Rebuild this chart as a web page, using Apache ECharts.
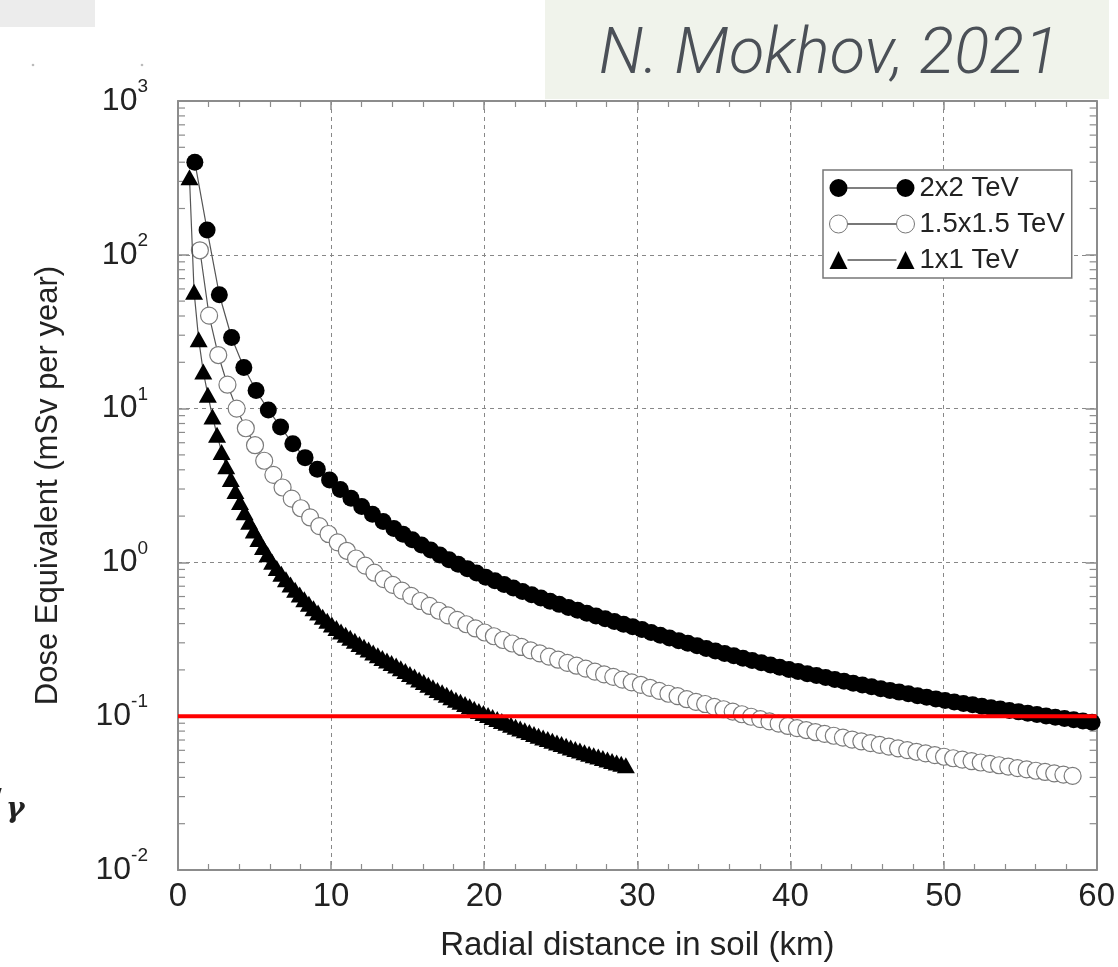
<!DOCTYPE html>
<html><head><meta charset="utf-8">
<script src="https://cdn.jsdelivr.net/npm/echarts@6/dist/echarts.min.js"></script>
<style>html,body{margin:0;padding:0;background:#fff}#c{width:1118px;height:967px}</style>
</head><body><div id="c"></div>
<script>
const SERIES_NAMES = ['2x2 TeV', '1.5x1.5 TeV', '1x1 TeV'];
const X_MIN = 0, X_MAX = 60, X_STEP = 10;
const Y_MIN = 0.01, Y_MAX = 1000;
const LIMIT_X = [0, 60];
const LIMIT_Y = 0.1;
const MINOR_MULT = [2, 3, 4, 5, 6, 7, 8, 9];
const DECADES = [0.01, 0.1, 1, 10, 100];

const BLACK_X = [1.1,1.9,2.7,3.5,4.3,5.1,5.9,6.7,7.5,8.3,9.1,9.9,10.6,11.3,12.0,12.7,13.4,14.1,14.7,15.3,15.9,16.5,17.1,17.7,18.3,18.9,19.5,20.1,20.7,21.3,21.9,22.5,23.1,23.7,24.3,24.9,25.5,26.1,26.7,27.3,27.9,28.5,29.1,29.7,30.3,30.9,31.5,32.1,32.7,33.3,33.9,34.5,35.1,35.7,36.3,36.9,37.5,38.1,38.7,39.3,39.9,40.5,41.1,41.7,42.3,42.9,43.5,44.1,44.7,45.3,45.9,46.5,47.1,47.7,48.3,48.9,49.5,50.1,50.7,51.3,51.9,52.5,53.1,53.7,54.3,54.9,55.5,56.1,56.7,57.3,57.9,58.5,59.1,59.7];
const BLACK_Y = [400,145,55,29,18.5,13.1,9.8,7.6,5.9,4.8,4.03,3.43,2.98,2.615,2.312,2.058,1.844,1.661,1.525,1.405,1.299,1.204,1.118,1.042,0.973,0.911,0.854,0.802,0.7586,0.7184,0.681,0.647,0.6155,0.586,0.559,0.5335,0.5098,0.4877,0.467,0.4476,0.4295,0.4124,0.396,0.3813,0.366,0.3507,0.336,0.3228,0.310,0.298,0.287,0.2759,0.2658,0.2561,0.247,0.2384,0.2302,0.2223,0.215,0.2078,0.2011,0.195,0.189,0.1838,0.1785,0.1734,0.1686,0.164,0.1595,0.1553,0.151,0.1472,0.1434,0.1398,0.136,0.1329,0.1296,0.1265,0.1237,0.1211,0.1185,0.116,0.1135,0.1112,0.1089,0.1067,0.1045,0.1025,0.1004,0.0985,0.0966,0.0948,0.093,0.0912];

const OPEN_X = [1.43,2.03,2.63,3.23,3.83,4.43,5.03,5.63,6.23,6.83,7.43,8.03,8.63,9.23,9.83,10.43,11.03,11.63,12.23,12.83,13.43,14.03,14.63,15.23,15.83,16.43,17.03,17.63,18.23,18.83,19.43,20.03,20.63,21.23,21.83,22.43,23.03,23.63,24.23,24.83,25.43,26.03,26.63,27.23,27.83,28.43,29.03,29.63,30.23,30.83,31.43,32.03,32.63,33.23,33.83,34.43,35.03,35.63,36.23,36.83,37.43,38.03,38.63,39.23,39.83,40.43,41.03,41.63,42.23,42.83,43.43,44.03,44.63,45.23,45.83,46.43,47.03,47.63,48.23,48.83,49.43,50.03,50.63,51.23,51.83,52.43,53.03,53.63,54.23,54.83,55.43,56.03,56.63,57.23,57.83,58.43];
const OPEN_Y = [107,40.2,22.3,14.3,10.0,7.45,5.78,4.58,3.71,3.07,2.60,2.25,1.96,1.72,1.53,1.35,1.19,1.06,0.952,0.857,0.779,0.714,0.656,0.606,0.561,0.521,0.485,0.452,0.423,0.396,0.372,0.350,0.331,0.313,0.297,0.282,0.268,0.256,0.244,0.233,0.222,0.213,0.204,0.195,0.187,0.180,0.173,0.166,0.160,0.153,0.146,0.140,0.135,0.129,0.124,0.120,0.115,0.111,0.107,0.103,0.0992,0.0958,0.0925,0.0894,0.0864,0.0837,0.0813,0.0789,0.0767,0.0746,0.0725,0.0705,0.0686,0.0668,0.0651,0.0634,0.0618,0.0602,0.0587,0.0573,0.0559,0.0545,0.0533,0.0522,0.0511,0.050,0.049,0.048,0.047,0.046,0.0451,0.0442,0.0434,0.0425,0.0417,0.0409];

const TRI_X = [0.75,1.05,1.35,1.65,1.95,2.25,2.55,2.85,3.15,3.45,3.75,4.05,4.35,4.65,4.95,5.25,5.55,5.85,6.15,6.45,6.75,7.05,7.35,7.65,7.95,8.25,8.55,8.85,9.15,9.45,9.75,10.05,10.35,10.65,10.95,11.25,11.55,11.85,12.15,12.45,12.75,13.05,13.35,13.65,13.95,14.25,14.55,14.85,15.15,15.45,15.75,16.05,16.35,16.65,16.95,17.25,17.55,17.85,18.15,18.45,18.75,19.05,19.35,19.65,19.95,20.25,20.55,20.85,21.15,21.45,21.75,22.05,22.35,22.65,22.95,23.25,23.55,23.85,24.15,24.45,24.75,25.05,25.35,25.65,25.95,26.25,26.55,26.85,27.15,27.45,27.75,28.05,28.35,28.65,28.95,29.25];
const TRI_Y = [319,57.5,28.2,17.4,12.3,8.9,6.76,5.22,4.22,3.48,2.91,2.47,2.12,1.84,1.61,1.42,1.26,1.13,1.01,0.921,0.845,0.777,0.718,0.665,0.618,0.576,0.538,0.504,0.473,0.444,0.418,0.395,0.375,0.356,0.339,0.324,0.309,0.295,0.283,0.271,0.260,0.249,0.239,0.230,0.222,0.214,0.205,0.197,0.188,0.181,0.173,0.167,0.160,0.154,0.148,0.143,0.138,0.133,0.128,0.124,0.120,0.116,0.112,0.108,0.105,0.102,0.0988,0.096,0.0931,0.0905,0.088,0.0855,0.0832,0.081,0.0788,0.0767,0.0747,0.0728,0.071,0.0692,0.0675,0.0659,0.0643,0.0627,0.0613,0.0598,0.0584,0.0571,0.0558,0.0546,0.0534,0.0522,0.0511,0.05,0.049,0.0479];

const zip = (xs, ys) => xs.map((x, i) => [x, ys[i]]);
const minorY = [];
DECADES.forEach(d => MINOR_MULT.forEach(m => minorY.push([X_MIN, d * m])));

const FONT = 'Liberation Sans, Arial, sans-serif';
const AX = '#8c8c8c';
const chart = echarts.init(document.getElementById('c'), null, {renderer: 'canvas'});

const circ = 'M0,9a9,9 0 1,0 18,0a9,9 0 1,0 -18,0Z M18,8.5 L67,8.5 L67,9.5 L18,9.5Z M67,9a9,9 0 1,0 18,0a9,9 0 1,0 -18,0Z';
const tri = 'M0,18 L9,0 L18,18Z M18,8.5 L67,8.5 L67,9.5 L18,9.5Z M67,18 L76,0 L85,18Z';

const option = {
  animation: false,
  backgroundColor: '#fff',
  grid: {left: 178, right: 14, top: 101, bottom: 97, containLabel: false},
  legend: {
    orient: 'vertical', left: 823, top: 170,
    backgroundColor: '#fff', borderColor: '#777', borderWidth: 1.5,
    padding: [4, 7, 4, 6], itemGap: 8, itemWidth: 85, itemHeight: 18,
    textStyle: {fontSize: 27.5, fontFamily: FONT, color: '#222', lineHeight: 27},
    data: [
      {name: SERIES_NAMES[0], icon: 'path://' + circ, itemStyle: {color: '#000', borderWidth: 0}},
      {name: SERIES_NAMES[1], icon: 'path://' + circ, itemStyle: {color: '#fff', borderColor: '#777', borderWidth: 1}},
      {name: SERIES_NAMES[2], icon: 'path://' + tri, itemStyle: {color: '#000', borderWidth: 0}}
    ]
  },
  xAxis: [{
    type: 'value', min: X_MIN, max: X_MAX, interval: X_STEP, position: 'bottom',
    name: 'Radial distance in soil (km)', nameLocation: 'middle', nameGap: 59,
    nameTextStyle: {fontSize: 33, fontFamily: FONT, color: '#222'},
    axisLine: {show: true, onZero: false, lineStyle: {color: AX, width: 2}},
    axisTick: {show: true, inside: true, length: 9, lineStyle: {color: AX, width: 1.5}},
    minorTick: {show: true, splitNumber: 5, length: 6, lineStyle: {color: AX, width: 1.2}},
    axisLabel: {fontSize: 33, fontFamily: FONT, color: '#222', margin: 10},
    splitLine: {show: true, lineStyle: {color: '#888', type: [4, 4], width: 1}}
  }, {
    type: 'value', min: X_MIN, max: X_MAX, interval: X_STEP, position: 'top',
    axisLine: {show: true, onZero: false, lineStyle: {color: AX, width: 2}},
    axisTick: {show: true, inside: true, length: 9, lineStyle: {color: AX, width: 1.5}},
    minorTick: {show: true, splitNumber: 5, length: 6, lineStyle: {color: AX, width: 1.2}},
    axisLabel: {show: false}, splitLine: {show: false}
  }],
  yAxis: [{
    type: 'log', logBase: 10, min: Y_MIN, max: Y_MAX, position: 'left',
    name: 'Dose Equivalent (mSv per year)', nameLocation: 'middle', nameGap: 114,
    nameTextStyle: {fontSize: 31, fontFamily: FONT, color: '#222'},
    axisLine: {show: true, onZero: false, lineStyle: {color: AX, width: 2}},
    axisTick: {show: true, inside: true, length: 11, lineStyle: {color: AX, width: 1.5}},
    axisLabel: {
      margin: 30, fontFamily: FONT,
      formatter: v => '{b|10}{s|' + Math.round(Math.log10(v)) + '}',
      rich: {
        b: {fontSize: 32, fontFamily: FONT, color: '#222'},
        s: {fontSize: 19, fontFamily: FONT, color: '#222', padding: [0, 0, 28, 0]}
      }
    },
    splitLine: {show: true, lineStyle: {color: '#888', type: [4, 4], width: 1}}
  }, {
    type: 'log', logBase: 10, min: Y_MIN, max: Y_MAX, position: 'right',
    axisLine: {show: true, onZero: false, lineStyle: {color: AX, width: 2}},
    axisTick: {show: true, inside: true, length: 11, lineStyle: {color: AX, width: 1.5}},
    axisLabel: {show: false}, splitLine: {show: false}
  }],
  series: [
    {
      type: 'custom', silent: true, z: 1, xAxisIndex: 0, yAxisIndex: 0, clip: false,
      data: minorY,
      renderItem: (params, api) => {
        const v = api.value(1);
        const l = api.coord([X_MIN, v]);
        const r = api.coord([X_MAX, v]);
        const st = {stroke: AX, lineWidth: 1.2};
        return {type: 'group', children: [
          {type: 'line', shape: {x1: l[0], y1: l[1], x2: l[0] + 7, y2: l[1]}, style: st},
          {type: 'line', shape: {x1: r[0], y1: r[1], x2: r[0] - 7, y2: r[1]}, style: st}
        ]};
      }
    },
    {
      name: SERIES_NAMES[0], type: 'line', z: 3, data: zip(BLACK_X, BLACK_Y),
      symbol: 'circle', symbolSize: 17, showSymbol: true,
      itemStyle: {color: '#000'}, lineStyle: {color: '#555', width: 1.2}
    },
    {
      name: SERIES_NAMES[1], type: 'line', z: 4, data: zip(OPEN_X, OPEN_Y),
      symbol: 'circle', symbolSize: 17, showSymbol: true,
      itemStyle: {color: '#fff', borderColor: '#7a7a7a', borderWidth: 1.2}, lineStyle: {color: '#555', width: 1.2}
    },
    {
      name: SERIES_NAMES[2], type: 'line', z: 5, data: zip(TRI_X, TRI_Y),
      symbol: 'triangle', symbolSize: [18, 16], showSymbol: true,
      itemStyle: {color: '#000'}, lineStyle: {color: '#555', width: 1.2}
    },
    {
      name: 'limit', type: 'line', z: 10, silent: true, symbol: 'none',
      data: LIMIT_X.map(x => [x, LIMIT_Y]),
      lineStyle: {color: '#ff0000', width: 4}
    }
  ],
  graphic: [
    {type: 'rect', shape: {x: 0, y: 0, width: 95, height: 27}, style: {fill: '#ececec'}, silent: true},
    {type: 'rect', shape: {x: 545, y: 0, width: 564, height: 99}, style: {fill: '#f0f3eb'}, silent: true},
    {type: 'text', x: 829, y: 57, style: {text: 'N. Mokhov, 2021', fontSize: 65, fontStyle: 'italic', fontWeight: 300, fontFamily: 'Roboto, Liberation Sans, sans-serif', fill: '#4b5057', align: 'center', verticalAlign: 'middle'}, silent: true},
    {type: 'circle', shape: {cx: 33, cy: 65, r: 1.3}, style: {fill: '#bbb'}, silent: true},
    {type: 'circle', shape: {cx: 142, cy: 65, r: 1.3}, style: {fill: '#bbb'}, silent: true},
    {type: 'text', x: -2, y: 786, style: {text: '′', fontSize: 22, fontFamily: FONT, fill: '#222'}, silent: true},
    {type: 'text', x: 6, y: 796, style: {text: 'γ', fontSize: 28, fontStyle: 'italic', fontWeight: 'bold', fontFamily: 'DejaVu Serif, serif', fill: '#222'}, silent: true}
  ]
};
chart.setOption(option);
</script></body></html>
